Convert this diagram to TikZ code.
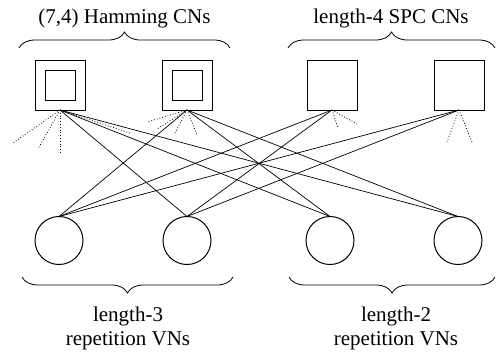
\documentclass[tikz,border=0pt]{standalone}
\usepackage{fontspec}
\setmainfont{Liberation Serif}
\usetikzlibrary{decorations.pathreplacing}
\begin{document}
\begin{tikzpicture}[x=1pt,y=-1pt,
 cn/.style={draw,line width=1pt,minimum size=50pt,inner sep=0pt,outer sep=0pt},
 innerbox/.style={draw,line width=1pt,minimum size=30pt,inner sep=0pt},
 vn/.style={draw,circle,line width=1pt,minimum size=48pt,inner sep=0pt,outer sep=0pt},
 conn/.style={line width=0.7pt},
 half/.style={line width=0.8pt,dotted},
 brc/.style={decorate,decoration={brace,amplitude=16pt},line width=0.8pt},
 lbl/.style={font=\fontsize{21}{24}\selectfont,anchor=base,inner sep=0pt}]
\useasboundingbox (0,0) rectangle (496,354);
% check nodes
\node[cn] (c1) at (60,85) {};
\node[innerbox] (c1i) at (60,85) {};
\node[cn] (c2) at (187,85) {};
\node[innerbox] (c2i) at (187,85) {};
\node[cn] (c3) at (332,85) {};
\node[cn] (c4) at (459,85) {};
% variable nodes
\node[vn] (v1) at (59,240.5) {};
\node[vn] (v2) at (187,240.5) {};
\node[vn] (v3) at (330,240.5) {};
\node[vn] (v4) at (458,240.5) {};
% edges
\draw[conn] (c1.south) -- (v2.north);
\draw[conn] (c1.south) -- (v3.north);
\draw[conn] (c1.south) -- (v4.north);
\draw[conn] (c2.south) -- (v1.north);
\draw[conn] (c2.south) -- (v3.north);
\draw[conn] (c2.south) -- (v4.north);
\draw[conn] (c3.south) -- (v1.north);
\draw[conn] (c3.south) -- (v2.north);
\draw[conn] (c4.south) -- (v1.north);
\draw[conn] (c4.south) -- (v2.north);
% dangling edges
\coordinate (d1a) at (13,143);
\coordinate (d1b) at (38,149);
\coordinate (d1c) at (60,154);
\coordinate (d1d) at (130,133);
\coordinate (d2a) at (147,122);
\coordinate (d2b) at (157,129);
\coordinate (d2c) at (175,133);
\coordinate (d2d) at (197,135);
\coordinate (d3a) at (338,128);
\coordinate (d3b) at (357,124);
\coordinate (d4a) at (447,142);
\coordinate (d4b) at (472,142);
\foreach \e in {d1a,d1b,d1c,d1d} \draw[half] (c1.south) -- (\e);
\foreach \e in {d2a,d2b,d2c,d2d} \draw[half] (c2.south) -- (\e);
\foreach \e in {d3a,d3b} \draw[half] (c3.south) -- (\e);
\foreach \e in {d4a,d4b} \draw[half] (c4.south) -- (\e);
% braces
\draw[brc] (19,48) -- (230,48);
\draw[brc] (288,48) -- (495,48);
\draw[brc] (233,277) -- (22,277);
\draw[brc] (495,277) -- (289,277);
% labels
\node[lbl] (t1) at (124.5,23) {(7,4) Hamming CNs};
\node[lbl] (t2) at (391,23) {length-4 SPC CNs};
\node[lbl] (b1a) at (128,321) {length-3};
\node[lbl] (b1b) at (128,345) {repetition VNs};
\node[lbl] (b2a) at (396,321) {length-2};
\node[lbl] (b2b) at (396,345) {repetition VNs};
\end{tikzpicture}
\end{document}
